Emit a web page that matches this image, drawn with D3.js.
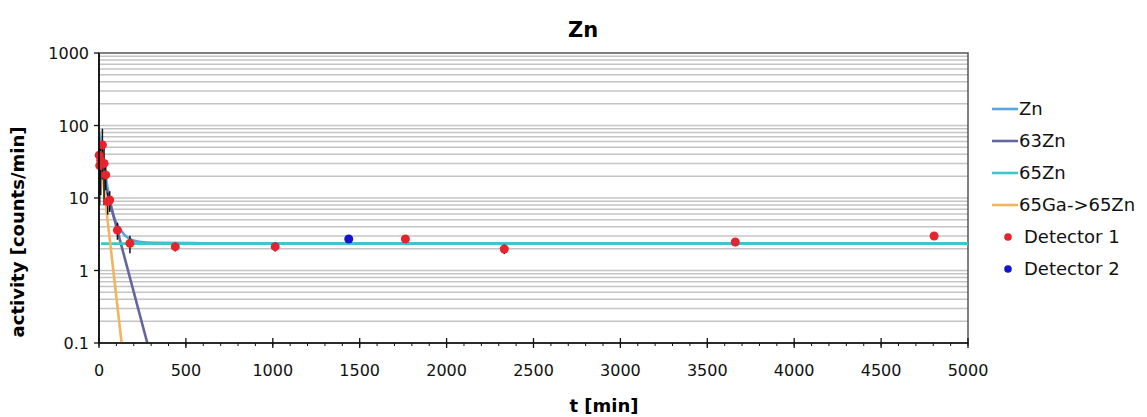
<!DOCTYPE html>
<html>
<head>
<meta charset="utf-8">
<script src="https://cdn.jsdelivr.net/npm/d3@7"></script>
<style>
  body { margin: 0; background: #fff; }
  svg { font-family: Verdana, "DejaVu Sans", sans-serif; }
</style>
</head>
<body>
<svg width="1147" height="417"></svg>
<script>
// fitted curves as [t, activity]
var znCurve = [[0, 85], [10, 57], [20, 42], [48, 14.3], [86, 5.5], [125, 3.6], [172, 2.78], [230, 2.49], [326, 2.41], [600, 2.38], [5000, 2.37]];
var zn63 = [[0, 32], [278, 0.1]];
var zn65 = [[12, 2.35], [5000, 2.35]];
var ga65 = [[0, 54], [130, 0.1]];

// measured points
var det1Time = [1, 4, 10, 19.5, 29, 38.5, 50, 61.5, 106, 178, 439, 1014, 1763, 2332, 3661, 4805];
var det1Value = [39, 28, 33, 54, 30, 20.8, 8.9, 9.4, 3.6, 2.37, 2.13, 2.13, 2.72, 1.98, 2.47, 2.99];
var det1Error = [30, 20, 22, 36, 22, 8, 3, 3, 0.95, 0.64, 0.3, 0.3, 0.3, 0.3, 0.3, 0.3];
var det2Time = [1437];
var det2Value = [2.72];
var det2Error = [0.3];

var xTicks = [0, 500, 1000, 1500, 2000, 2500, 3000, 3500, 4000, 4500, 5000];
var yTicks = [0.1, 1, 10, 100, 1000];

var legendNames = ["Zn", "63Zn", "65Zn", "65Ga->65Zn", "Detector 1", "Detector 2"];
var colors = {Zn: "#5aa6dc", "63Zn": "#65659f", "65Zn": "#3cc8c8", "65Ga->65Zn": "#f2b45c", "Detector 1": "#e8232c", "Detector 2": "#1414cc"};

var svg = d3.select("svg");
var plotL = 99, plotR = 968, plotT = 53, plotB = 343;

var x = d3.scaleLinear().domain([0, 5000]).range([plotL, plotR]);
var y = d3.scaleLog().domain([0.1, 1000]).range([plotB, plotT]);

// horizontal grid at every 1..9 of each decade
var grid = [];
for (var d = 0.1; d < 999; d *= 10) {
  for (var k = 1; k <= 9; k++) grid.push(+(d * k).toPrecision(3));
}
svg.append("g").selectAll("line")
  .data(grid.filter(function(v) { return v > 0.1; }))
  .enter().append("line")
  .attr("x1", plotL).attr("x2", plotR)
  .attr("y1", function(v) { return y(v); })
  .attr("y2", function(v) { return y(v); })
  .style("stroke", "#c4c4c4")
  .style("stroke-width", "1.5px");

// frame
svg.append("rect")
  .attr("x", plotL).attr("y", plotT)
  .attr("width", plotR - plotL).attr("height", plotB - plotT)
  .style("fill", "none").style("stroke", "#555").style("stroke-width", "1.5px");

// curves
svg.append("clipPath").attr("id", "plot").append("rect")
  .attr("x", plotL).attr("y", plotT).attr("width", plotR - plotL).attr("height", plotB - plotT);

var line = d3.line()
  .x(function(p) { return x(p[0]); })
  .y(function(p) { return y(p[1]); })
  .curve(d3.curveMonotoneX);

var curves = [["Zn", znCurve], ["63Zn", zn63], ["65Zn", zn65], ["65Ga->65Zn", ga65]];
svg.append("g").attr("clip-path", "url(#plot)")
  .selectAll("path")
  .data(curves)
  .enter().append("path")
  .attr("d", function(c) { return line(c[1]); })
  .style("fill", "none")
  .style("stroke", function(c) { return colors[c[0]]; })
  .style("stroke-width", "2.6px");

// points with error bars
var points = [];
det1Time.forEach(function(t, i) { points.push({t: t, v: det1Value[i], e: det1Error[i], s: "Detector 1"}); });
det2Time.forEach(function(t, i) { points.push({t: t, v: det2Value[i], e: det2Error[i], s: "Detector 2"}); });

svg.append("g").selectAll("line")
  .data(points)
  .enter().append("line")
  .attr("x1", function(p) { return x(p.t); })
  .attr("x2", function(p) { return x(p.t); })
  .attr("y1", function(p) { return y(p.v + p.e); })
  .attr("y2", function(p) { return y(Math.max(p.v - p.e, 0.1)); })
  .style("stroke", "#111")
  .style("stroke-width", "1.5px");

svg.append("g").selectAll("circle")
  .data(points)
  .enter().append("circle")
  .attr("cx", function(p) { return x(p.t); })
  .attr("cy", function(p) { return y(p.v); })
  .attr("r", 4.5)
  .style("fill", function(p) { return colors[p.s]; });

// axes
var xAxis = svg.append("g").attr("transform", "translate(0," + plotB + ")");
xAxis.append("line").attr("x1", plotL).attr("x2", plotR).style("stroke", "#111").style("stroke-width", "1.5px");
xAxis.selectAll(".minor")
  .data(d3.range(0, 5001, 100))
  .enter().append("line")
  .attr("x1", function(t) { return x(t); }).attr("x2", function(t) { return x(t); })
  .attr("y1", 0).attr("y2", 3)
  .style("stroke", "#111");
xAxis.selectAll(".major")
  .data(xTicks)
  .enter().append("line")
  .attr("x1", function(t) { return x(t); }).attr("x2", function(t) { return x(t); })
  .attr("y1", -5).attr("y2", 5)
  .style("stroke", "#111").style("stroke-width", "1.3px");
xAxis.selectAll("text")
  .data(xTicks)
  .enter().append("text")
  .attr("x", function(t) { return x(t); })
  .attr("y", 33)
  .attr("text-anchor", "middle")
  .style("font-size", "16px")
  .style("fill", "#111")
  .text(function(t) { return t; });

var yAxis = svg.append("g");
yAxis.append("line").attr("x1", plotL).attr("x2", plotL).attr("y1", plotT).attr("y2", plotB)
  .style("stroke", "#111").style("stroke-width", "1.8px");
yAxis.selectAll(".tick")
  .data(yTicks)
  .enter().append("line")
  .attr("x1", plotL - 5).attr("x2", plotL)
  .attr("y1", function(v) { return y(v); }).attr("y2", function(v) { return y(v); })
  .style("stroke", "#111").style("stroke-width", "1.3px");
yAxis.selectAll("text")
  .data(yTicks)
  .enter().append("text")
  .attr("x", plotL - 10)
  .attr("y", function(v) { return y(v) + 6; })
  .attr("text-anchor", "end")
  .style("font-size", "16px")
  .style("fill", "#111")
  .text(function(v) { return v; });

// titles
svg.append("text").attr("x", 583).attr("y", 37).attr("text-anchor", "middle")
  .style("font-size", "21px").style("font-weight", "bold").text("Zn");
svg.append("text").attr("x", 604).attr("y", 412).attr("text-anchor", "middle")
  .style("font-size", "18px").style("font-weight", "bold").text("t [min]");
svg.append("text").attr("transform", "translate(24,232) rotate(-90)")
  .attr("text-anchor", "middle")
  .style("font-size", "18px").style("font-weight", "bold").text("activity [counts/min]");

// legend
var legend = svg.append("g").selectAll("g")
  .data(legendNames)
  .enter().append("g")
  .attr("transform", function(n, i) { return "translate(992," + (109 + i * 32) + ")"; });
legend.filter(function(n, i) { return i < 4; }).append("line")
  .attr("x1", 0).attr("x2", 26)
  .style("stroke", function(n) { return colors[n]; })
  .style("stroke-width", "2.6px");
legend.filter(function(n, i) { return i >= 4; }).append("circle")
  .attr("cx", 16).attr("r", 3.8)
  .style("fill", function(n) { return colors[n]; });
legend.append("text")
  .attr("x", function(n, i) { return i < 4 ? 27 : 32; })
  .attr("y", 6)
  .style("font-size", "18px")
  .style("fill", "#111")
  .text(function(n) { return n; });
</script>
</body>
</html>
